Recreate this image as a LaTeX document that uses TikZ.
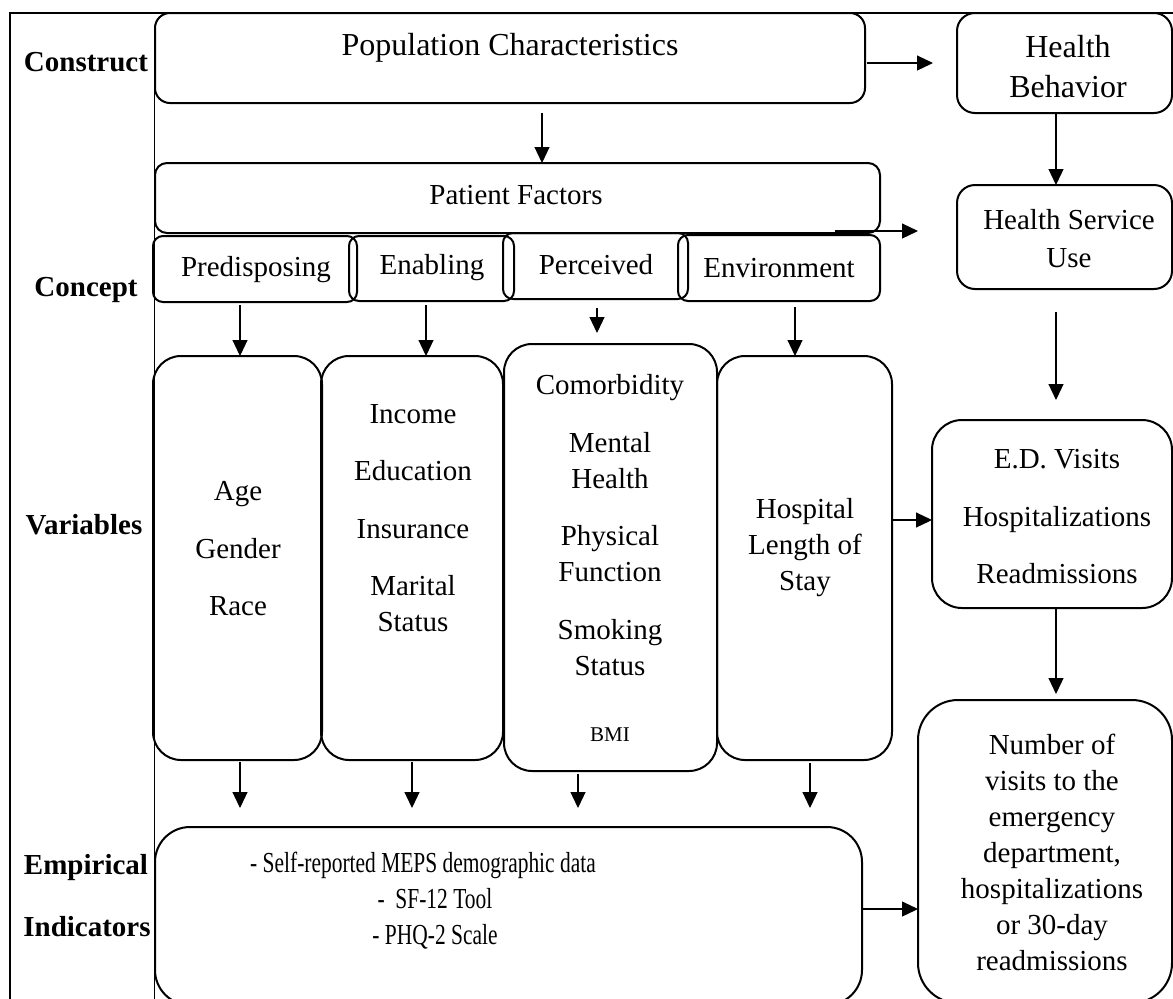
\documentclass[tikz,border=0pt]{standalone}
\usepackage{fontspec}
\setmainfont{Liberation Serif}
\usetikzlibrary{arrows.meta,calc,fit}
\begin{document}
\begin{tikzpicture}[x=0.5pt,y=-0.5pt,
  box/.style={draw, line width=1pt, inner sep=0pt, outer sep=0pt},
  arr/.style={line width=0.6pt, -{Triangle[width=7.5pt,length=8pt]}},
  txt/.style={font=\fontsize{14.5}{18}\selectfont, align=center, inner sep=0pt},
  big/.style={font=\fontsize{16}{20}\selectfont, align=center, inner sep=0pt},
  hd/.style={font=\fontsize{14.5}{18}\selectfont\bfseries, inner sep=0pt}]

\useasboundingbox (0,0) rectangle (1173,998);
\fill[white] (0,0) rectangle (1173,998);
\clip (0,0) rectangle (1173,998);

% frame and the rule that separates the row headings
\draw[line width=1pt] (10,1005) -- (10,13) -- (1180,13);
\draw[line width=0.5pt] (154,28) -- (154,1005);

% row headings
\node[hd] (hConstruct) at (86,62) {Construct};
\node[hd] (hConcept) at (86,290) {Concept};
\node[hd] (hVariables) at (84,525) {Variables};
\node[hd] (hEmpirical) at (86,868) {Empirical};
\node[hd] (hIndicators) at (87,927) {Indicators};

% construct level
\node[box, rounded corners=7.5pt, fit={(155,13) (865,103)}] (pop) {};
\node[big] (popT) at (510,48) {Population Characteristics};
\node[box, rounded corners=9pt, fit={(957,13) (1172,113)}] (hb) {};
\node[big] (hbT) at (1068,67) {Health\\Behavior};

% concept level
\node[box, rounded corners=6pt, fit={(155,163) (880,233)}] (pf) {};
\node[txt] (pfT) at (516,195) {Patient Factors};
\node[box, rounded corners=9pt, fit={(957,185) (1172,289)}] (hsu) {};
\node[txt, font=\fontsize{14.5}{19}\selectfont] (hsuT) at (1069,239) {Health Service\\Use};

\node[box, rounded corners=5pt, fit={(153,236) (357,302)}] (pre) {};
\node[box, rounded corners=5pt, fit={(349,236) (514,301)}] (ena) {};
\node[box, rounded corners=5pt, fit={(503,233) (688,299)}] (per) {};
\node[box, rounded corners=5pt, fit={(678,235) (880,301)}] (env) {};
\node[txt] (preT) at (256,270) {Predisposing};
\node[txt] (enaT) at (432,268) {Enabling};
\node[txt] (perT) at (596,265) {Perceived};
\node[txt] (envT) at (779,268) {Environment};

% variables level
\node[box, rounded corners=14pt, fit={(153,356) (322,760)}] (age) {};
\node[box, rounded corners=14pt, fit={(321,356) (503,760)}] (inc) {};
\node[box, rounded corners=14pt, fit={(504,344) (717,771)}] (com) {};
\node[box, rounded corners=14pt, fit={(717,356) (892,760)}] (hosp) {};
\node[box, rounded corners=15pt, fit={(932,420) (1172,608)}] (ed) {};

\node[txt] (ageT) at (238,549) {Age\\[10.75pt]Gender\\[10.75pt]Race};
\node[txt] (incT) at (413,518) {Income\\[10.75pt]Education\\[10.75pt]Insurance\\[10.75pt]Marital\\Status};
\node[txt] (comT) at (610,525) {Comorbidity\\[10.75pt]Mental\\Health\\[10.75pt]Physical\\Function\\[10.75pt]Smoking\\Status};
\node[txt, font=\fontsize{10.5}{12}\selectfont] (bmiT) at (610,735) {BMI};
\node[txt] (hospT) at (805,548) {Hospital\\Length of\\Stay};
\node[txt] (edT) at (1057,517) {E.D. Visits\\[10.75pt]Hospitalizations\\[10.75pt]Readmissions};

% empirical indicators level
\node[box, rounded corners=17.5pt, fit={(155,827) (862,1005)}] (emp) {};
\node[txt] (empT) at (429,901) {\scalebox{0.74}[1]{- Self-reported MEPS demographic data}\hspace*{6pt}\\
  \hspace*{6pt}\scalebox{0.74}[1]{-\ \ SF-12 Tool}\\\hspace*{6pt}\scalebox{0.74}[1]{- PHQ-2 Scale}};
\node[box, rounded corners=20pt, fit={(918,700) (1172,1003)}] (num) {};
\node[txt] (numT) at (1052,852) {Number of\\visits to the\\emergency\\department,\\hospitalizations\\or 30-day\\readmissions};

% connectors
\coordinate (a1) at ($(pop.south)+(32,10)$);
\draw[arr] (a1) -- (a1 |- pf.north);
\coordinate (a2) at ($(pop.east)+(2,5)$);
\draw[arr] (a2) -- ($(a2 -| hb.west)+(-24,0)$);
\coordinate (a3) at ($(hb.south)+(-8.5,0)$);
\draw[arr] (a3) -- (a3 |- hsu.north);
\coordinate (a4) at ($(pf.south)+(317.5,-2)$);
\draw[arr] (a4) -- ($(a4 -| hsu.west)+(-39,0)$);
\coordinate (a5) at ($(hsu.south)+(-8.5,23)$);
\draw[arr] (a5) -- ($(a5 |- ed.north)+(0,-20)$);
\coordinate (a6) at ($(ed.south)+(4,0)$);
\draw[arr] (a6) -- ($(a6 |- num.north)+(0,-6)$);
\coordinate (a7) at ($(hosp.east)+(0,-38)$);
\draw[arr] (a7) -- (a7 -| ed.west);
\coordinate (a8) at ($(emp.east)+(0,-7)$);
\draw[arr] (a8) -- (a8 -| num.west);

\coordinate (b1) at ($(pre.south)+(-15,3)$);
\draw[arr] (b1) -- (b1 |- age.north);
\coordinate (b2) at ($(ena.south)+(-5.5,4)$);
\draw[arr] (b2) -- (b2 |- inc.north);
\coordinate (b3) at ($(per.south)+(1.5,9)$);
\draw[arr] (b3) -- ($(b3 |- com.north)+(0,-11)$);
\coordinate (b4) at ($(env.south)+(16,6)$);
\draw[arr] (b4) -- (b4 |- hosp.north);

\coordinate (c1) at ($(age.south)+(2.5,2)$);
\draw[arr] (c1) -- ($(c1 |- emp.north)+(0,-19)$);
\coordinate (c2) at ($(inc.south)+(0,2)$);
\draw[arr] (c2) -- ($(c2 |- emp.north)+(0,-19)$);
\coordinate (c3) at ($(com.south)+(-32.5,3)$);
\draw[arr] (c3) -- ($(c3 |- emp.north)+(0,-19)$);
\coordinate (c4) at ($(hosp.south)+(5.5,3)$);
\draw[arr] (c4) -- ($(c4 |- emp.north)+(0,-19)$);
\end{tikzpicture}
\end{document}
